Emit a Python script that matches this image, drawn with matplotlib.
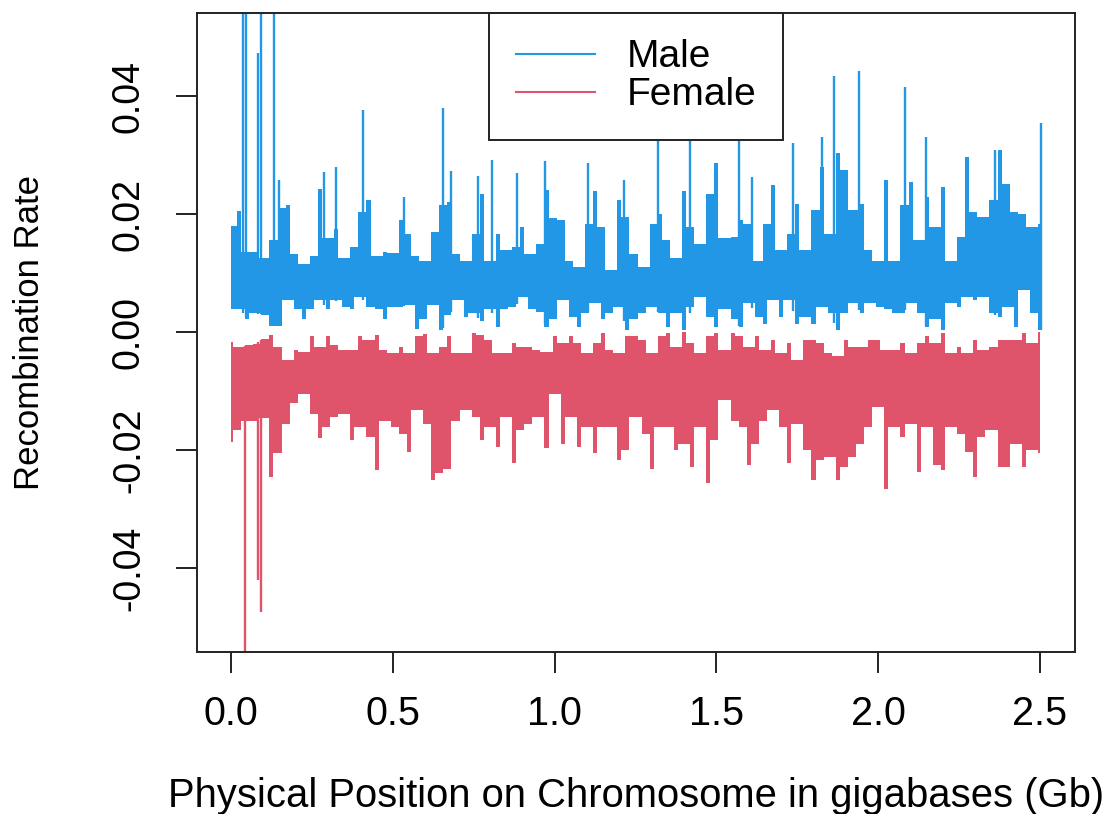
import numpy as np
import matplotlib
matplotlib.use("Agg")
import matplotlib.pyplot as plt
from matplotlib.lines import Line2D

plt.rcParams['font.family'] = ['Liberation Sans', 'DejaVu Sans']

# ---- data ----
# window positions along the genome (Gb), one window every 0.025 Gb
pos_gb = np.round(np.arange(0, 101) * 0.025, 4)

male_hi = [0.018, 0.0205, 0.0136, 0.0136, 0.0125, 0.0156, 0.021, 0.0215, 0.0133, 0.0116,
           0.013, 0.0243, 0.016, 0.0175, 0.0125, 0.0145, 0.0204, 0.0224, 0.013, 0.0136,
           0.0134, 0.019, 0.0167, 0.013, 0.012, 0.017, 0.0215, 0.022, 0.0133, 0.012,
           0.0167, 0.0235, 0.012, 0.0167, 0.0139, 0.0145, 0.0178, 0.0133, 0.015, 0.0241,
           0.0193, 0.019, 0.012, 0.011, 0.0184, 0.024, 0.0178, 0.0105, 0.0224, 0.0195,
           0.0133, 0.011, 0.0184, 0.0201, 0.0156, 0.0125, 0.024, 0.0178, 0.015, 0.0235,
           0.0286, 0.016, 0.0161, 0.019, 0.0184, 0.012, 0.0184, 0.0249, 0.0139, 0.0167,
           0.0218, 0.0139, 0.0207, 0.028, 0.0167, 0.0303, 0.0275, 0.0207, 0.0218, 0.0139,
           0.012, 0.0258, 0.012, 0.0215, 0.0255, 0.0156, 0.0229, 0.0178, 0.0246, 0.012,
           0.0161, 0.0297, 0.0204, 0.0195, 0.0224, 0.0309, 0.0252, 0.0204, 0.0201, 0.0178,
           0.0184]
male_lo = [0.004, 0.004, 0.0023, 0.0032, 0.003, 0.001, 0.001, 0.0055, 0.004, 0.0023,
           0.004, 0.0054, 0.004, 0.0054, 0.0043, 0.004, 0.006, 0.0043, 0.004, 0.0023,
           0.0043, 0.0043, 0.0046, 0.0006, 0.0023, 0.0046, 0.0003, 0.003, 0.0054, 0.0026,
           0.0032, 0.0019, 0.004, 0.0009, 0.004, 0.0043, 0.006, 0.004, 0.0034, 0.0009,
           0.0023, 0.0054, 0.0026, 0.0009, 0.0032, 0.005, 0.0023, 0.0032, 0.0043, 0.0003,
           0.0023, 0.0032, 0.0043, 0.0032, 0.0009, 0.0032, 0.0003, 0.0043, 0.006, 0.0026,
           0.0009, 0.004, 0.0023, 0.0009, 0.0049, 0.0026, 0.0014, 0.0054, 0.0026, 0.0054,
           0.0014, 0.0026, 0.0014, 0.0043, 0.0032, 0.0003, 0.0032, 0.0049, 0.0032, 0.0049,
           0.0043, 0.004, 0.0032, 0.0032, 0.0049, 0.0032, 0.0009, 0.0023, 0.0003, 0.0049,
           0.0043, 0.006, 0.0054, 0.006, 0.0032, 0.0026, 0.0043, 0.0009, 0.0072, 0.0032,
           0.0003]
female_hi = [-0.0016, -0.0025, -0.0022, -0.002, -0.0011, -0.0005, -0.0025, -0.0047, -0.003, -0.0033,
             -0.0007, -0.0025, -0.0007, -0.0022, -0.003, -0.003, -0.0007, -0.0013, -0.0005, -0.003,
             -0.0036, -0.0025, -0.0036, -0.0007, -0.0003, -0.0036, -0.0025, -0.0007, -0.0036, -0.0036,
             -0.0002, -0.0005, -0.0013, -0.0036, -0.0036, -0.0019, -0.0025, -0.0025, -0.003, -0.0033,
             -0.0007, -0.0019, -0.0007, -0.0019, -0.0036, -0.0019, -0.0002, -0.003, -0.0036, -0.0007,
             -0.0007, -0.0013, -0.0036, -0.0007, -0.0002, -0.0025, 0.0, -0.0019, -0.0036, -0.0007,
             -0.0002, -0.003, -0.0002, -0.0007, -0.0025, -0.0007, -0.003, -0.0013, -0.0036, -0.0019,
             -0.0047, -0.0013, -0.0013, -0.0019, -0.0036, -0.0041, -0.0013, -0.0025, -0.0025, -0.0013,
             -0.0013, -0.003, -0.003, -0.0019, -0.0036, -0.0019, -0.0007, -0.0019, -0.0002, -0.0036,
             -0.0025, -0.0036, -0.0013, -0.003, -0.0025, -0.0013, -0.0013, -0.0013, -0.0002, -0.0019,
             0.0]
female_lo = [-0.0186, -0.0166, -0.015, -0.015, -0.0145, -0.0246, -0.0205, -0.0155, -0.012, -0.0104,
             -0.0138, -0.018, -0.016, -0.0143, -0.0138, -0.0183, -0.016, -0.0177, -0.0234, -0.015,
             -0.016, -0.0172, -0.0203, -0.0132, -0.0155, -0.0251, -0.0239, -0.0231, -0.015, -0.0132,
             -0.0143, -0.0183, -0.016, -0.0194, -0.0143, -0.0222, -0.0166, -0.0155, -0.0143, -0.0197,
             -0.0104, -0.0189, -0.0143, -0.0194, -0.016, -0.0205, -0.016, -0.016, -0.0217, -0.02,
             -0.0143, -0.0172, -0.0231, -0.016, -0.016, -0.02, -0.0189, -0.0228, -0.016, -0.0256,
             -0.0183, -0.0115, -0.015, -0.016, -0.0225, -0.0189, -0.015, -0.0132, -0.016, -0.0222,
             -0.0155, -0.02, -0.0251, -0.0217, -0.0211, -0.0251, -0.0228, -0.0211, -0.0189, -0.016,
             -0.0127, -0.0265, -0.016, -0.0177, -0.0155, -0.0237, -0.016, -0.0225, -0.0234, -0.016,
             -0.0172, -0.0203, -0.0245, -0.0177, -0.0166, -0.0228, -0.0228, -0.0189, -0.0228, -0.02,
             -0.0205]

# isolated narrow peaks (Gb, rate)
male_spike_x = [0.037, 0.046, 0.0845, 0.093, 0.134, 0.148, 0.288, 0.323, 0.409, 0.535,
                0.654, 0.679, 0.764, 0.806, 0.883, 0.970, 1.104, 1.215, 1.319, 1.418,
                1.571, 1.609, 1.736, 1.825, 1.864, 1.942, 2.084, 2.148, 2.361, 2.504]
male_spike_v = [0.07, 0.07, 0.0474, 0.07, 0.07, 0.0258, 0.0272, 0.028, 0.0376, 0.0229,
                0.038, 0.0274, 0.0264, 0.0292, 0.027, 0.029, 0.0286, 0.0258, 0.0334, 0.0325,
                0.0325, 0.0263, 0.032, 0.0331, 0.0435, 0.0443, 0.0415, 0.0331, 0.0309, 0.0354]
female_spike_x = [0.043, 0.0845, 0.093]
female_spike_v = [-0.07, -0.042, -0.0475]

x_ticks = [0.0, 0.5, 1.0, 1.5, 2.0, 2.5]
y_ticks = [-0.04, -0.02, 0.00, 0.02, 0.04]

MALE_C = '#2297E6'
FEMALE_C = '#DF536B'


def band(pos, hi, lo):
    """Each window's extremes, joined through the overlap of neighbouring windows."""
    xs, hs, ls = [], [], []
    n = len(pos)
    for i in range(n):
        xs.append(pos[i]); hs.append(hi[i]); ls.append(lo[i])
        if i < n - 1:
            xs.append((pos[i] + pos[i + 1]) / 2)
            hs.append(min(hi[i], hi[i + 1]))
            ls.append(max(lo[i], lo[i + 1]))
    return np.array(xs), np.array(hs), np.array(ls)


fig = plt.figure(figsize=(11.11, 8.14), dpi=100)
ax = fig.add_axes([197/1111, 1-652/814, (1075-197)/1111, (652-13)/814])

mx, mh, ml = band(pos_gb, male_hi, male_lo)
fx, fh, fl = band(pos_gb, female_hi, female_lo)
ax.fill_between(mx, ml, mh, step='mid', color=MALE_C, lw=0)
ax.fill_between(fx, fl, fh, step='mid', color=FEMALE_C, lw=0)

m_base = np.interp(male_spike_x, pos_gb, male_lo)
f_base = np.interp(female_spike_x, pos_gb, female_hi)
ax.vlines(male_spike_x, m_base, male_spike_v, color=MALE_C, lw=1.7)
ax.vlines(female_spike_x, f_base, female_spike_v, color=FEMALE_C, lw=1.7)

ax.set_xlim(-0.105, 2.608)
ax.set_ylim(-0.0542, 0.0541)
ax.set_xticks(x_ticks)
ax.set_xticklabels([f"{t:.1f}" for t in x_ticks], fontsize=28.5)
ax.set_yticks(y_ticks)
ax.set_yticklabels([f"{t:.2f}" for t in y_ticks], rotation=90, va='center', fontsize=27)

for s in ax.spines.values():
    s.set_linewidth(1.4)
    s.set_color('#222222')
ax.tick_params(axis='both', length=15, width=1.4, color='#222222')
ax.tick_params(axis='x', pad=16)
ax.tick_params(axis='y', pad=21)

ax.set_xlabel("Physical Position on Chromosome in gigabases (Gb)", fontsize=28.8)
ax.xaxis.set_label_coords(0.5, -0.195)
ax.set_ylabel("Recombination Rate", fontsize=25)
ax.yaxis.set_label_coords(-0.172, 0.5)

handles = [Line2D([], [], color=MALE_C, lw=1.5), Line2D([], [], color=FEMALE_C, lw=1.5)]
leg = ax.legend(handles, ['Male', 'Female'], loc='upper center', bbox_to_anchor=(0.5, 1.0),
                borderaxespad=0, fancybox=False, framealpha=1, edgecolor='#222222',
                fontsize=28, handlelength=2.05, handletextpad=0.8, labelspacing=0.05,
                borderpad=0.68)
leg.get_frame().set_linewidth(1.4)

fig.savefig('out.png', dpi=100)
